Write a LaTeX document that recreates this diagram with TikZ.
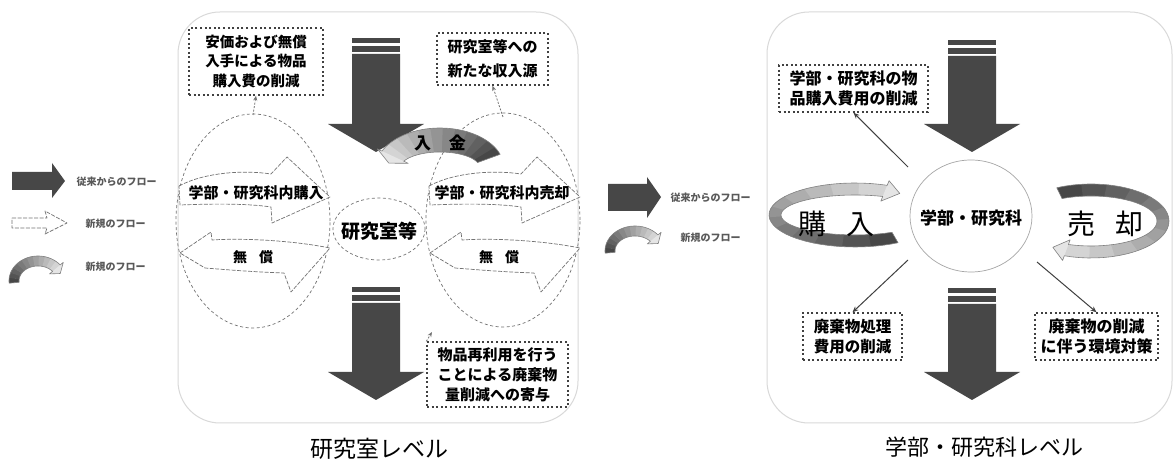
\documentclass[tikz,border=0pt]{standalone}
\usepackage{fontspec}
\setmainfont{Noto Sans CJK JP}
\usetikzlibrary{shapes.geometric,arrows.meta}
\newcommand{\fs}[2]{\fontsize{#1bp}{#2bp}\selectfont}
% curved band arrow: cx cy a b halfwidth t1 t2 headextra tipdelta
\newcommand{\bandarrow}[9]{%
  \foreach \i in {0,...,11}{%
    \pgfmathsetmacro\ta{#6+(#7-#6)*\i/12}%
    \pgfmathsetmacro\tb{#6+(#7-#6)*(\i+1.1)/12}%
    \pgfmathsetmacro\cc{72-55*\i/11}%
    \fill[black!\cc] plot[domain=\ta:\tb,samples=5] ({#1+(#3+#5)*cos(\x)},{#2+(#4+#5)*sin(\x)}) -- plot[domain=\tb:\ta,samples=5] ({#1+(#3-#5)*cos(\x)},{#2+(#4-#5)*sin(\x)}) -- cycle;
  }%
  \fill[black!10] ({#1+(#3+#5+#8)*cos(#7)},{#2+(#4+#5+#8)*sin(#7)}) -- ({#1+#3*cos(#7+#9)},{#2+#4*sin(#7+#9)}) -- ({#1+(#3-#5-#8)*cos(#7)},{#2+(#4-#5-#8)*sin(#7)}) -- cycle;
  \draw[black!50,line width=0.6bp,line join=round] plot[domain=#6:#7,samples=40] ({#1+(#3+#5)*cos(\x)},{#2+(#4+#5)*sin(\x)}) -- ({#1+(#3+#5+#8)*cos(#7)},{#2+(#4+#5+#8)*sin(#7)}) -- ({#1+#3*cos(#7+#9)},{#2+#4*sin(#7+#9)}) -- ({#1+(#3-#5-#8)*cos(#7)},{#2+(#4-#5-#8)*sin(#7)}) -- plot[domain=#7:#6,samples=40] ({#1+(#3-#5)*cos(\x)},{#2+(#4-#5)*sin(\x)}) -- cycle;
}
\newcommand{\exarrows}[1]{%
  \begin{scope}[shift={(#1,0)}]
    \draw[warrow] (179,186) .. controls (205,172) and (245,170) .. (271,174) -- (287,157) -- (330,197) -- (272,223) -- (271,207) .. controls (245,203) and (205,204) .. (180,205) -- cycle;
    \draw[warrow] (180,253) -- (211,232) -- (212,240) .. controls (240,238) and (290,240) .. (330,248) -- (291,292) -- (284,273) .. controls (255,272) and (230,270) .. (205,268) -- cycle;
  \end{scope}%
}
\newcommand{\darrow}[3]{% x-center, top y of stripes, tip y
  \fill[darkfill] ({#1-24},#2) rectangle ({#1+24},{#2+5});
  \fill[darkfill] ({#1-24},{#2+8}) rectangle ({#1+24},{#2+14});
  \fill[darkfill] ({#1-24},{#2+16}) -- ({#1+24},{#2+16}) -- ({#1+24},{#3-28}) -- ({#1+48},{#3-28}) -- (#1,#3) -- ({#1-48},{#3-28}) -- ({#1-24},{#3-28}) -- cycle;
}
\begin{document}
\begin{tikzpicture}[x=1bp,y=-1bp,
  panel/.style={draw=black!15,line width=1bp,rounded corners=42bp},
  dbox/.style={draw=black!75,line width=1.4bp,dash pattern=on 2bp off 2.6bp,align=center,inner sep=0pt,font=\bfseries},
  dell/.style={draw=black!55,line width=0.7bp,dash pattern=on 3bp off 2.5bp},
  warrow/.style={fill=white,draw=black!55,line width=0.7bp,dash pattern=on 4bp off 1.5bp,line join=round},
  darkfill/.style={fill=black!72},
  conn/.style={draw=black!75,line width=1bp,-{Stealth[length=6bp,width=5bp]}},
  lconn/.style={draw=black!55,line width=0.8bp,dash pattern=on 2bp off 1.5bp,-{Stealth[length=5bp,width=4bp]}},
  leg/.style={anchor=west,text=black!65,font=\bfseries\fs{10}{10}},
  lbl/.style={font=\bfseries,inner sep=0pt}]
\useasboundingbox (0,0) rectangle (1175,470);
\fill[white] (0,0) rectangle (1175,470);

% ---------- left legend ----------
\fill[darkfill] (12,172) -- (52,172) -- (52,163) -- (65,181) -- (52,198) -- (52,190) -- (12,190) -- cycle;
\node[leg] (lg1) at (73,182) {従来からのフロー};
\draw[warrow,fill=white] (12,218) -- (47,218) -- (45,211) -- (67,223) -- (45,234) -- (47,228) -- (12,228) -- cycle;
\node[leg] (lg2) at (82,224) {新規のフロー};
\bandarrow{38}{281}{24}{20}{5}{175}{320}{4}{18}
\node[leg] (lg3) at (82,267) {新規のフロー};

% ---------- right legend ----------
\fill[darkfill] (608,184) -- (647,184) -- (647,177) -- (661,197) -- (647,218) -- (647,211) -- (608,211) -- cycle;
\node[leg] (lg4) at (667,198) {従来からのフロー};
\bandarrow{635}{251}{25}{20}{5}{175}{320}{4}{18}
\node[leg] (lg5) at (677,238) {新規のフロー};

% ---------- left panel ----------
\draw[panel] (178,12) rectangle (578,423);
\node[ellipse,dell,minimum width=154bp,minimum height=214bp,inner sep=0pt] (ellL) at (253,221) {};
\node[ellipse,dell,minimum width=154bp,minimum height=214bp,inner sep=0pt] (ellR) at (503,220) {};
\exarrows{0}
\exarrows{250}
\draw[dell] (379,229) ellipse [x radius=46, y radius=31];
\node[lbl,font=\bfseries\fs{19}{19}] (lab) at (379,231) {研究室等};
\node[lbl,font=\bfseries\fs{15}{15}] (inbuy) at (256,193) {学部・研究科内購入};
\node[lbl,font=\bfseries\fs{14}{14}] (free1) at (253,257) {無\hspace{12bp}償};
\node[lbl,font=\bfseries\fs{15}{15}] (insell) at (502,193) {学部・研究科内売却};
\node[lbl,font=\bfseries\fs{14}{14}] (free2) at (499,257) {無\hspace{12bp}償};

\darrow{376}{38}{152}
\darrow{376}{287}{400}

\bandarrow{440}{168}{52}{28}{12}{340}{205}{5}{-15}
\node[lbl,font=\bfseries\fs{17}{17}] (nyukin) at (440,143) {入\hspace{18bp}金};

\node[dbox,minimum width=134bp,minimum height=67bp,font=\bfseries\fs{14.5}{19.5}] (boxA) at (256,61.5) {安価および無償\\入手による物品\\購入費の削減};
\node[dbox,minimum width=111bp,minimum height=52bp,font=\bfseries\fs{15}{24}] (boxB) at (492.5,59) {研究室等への\\新たな収入源};
\node[dbox,minimum width=141bp,minimum height=65bp,font=\bfseries\fs{15}{20}] (boxC) at (497.5,374.5) {物品再利用を行う\\ことによる廃棄物\\量削減への寄与};
\coordinate (a1) at (253,115);
\coordinate (a2) at (503,117);
\coordinate (a3) at (432,332);
\draw[lconn] (a1) -- (boxA.south);
\draw[lconn] (a2) -- (boxB.south);
\draw[lconn] (boxC.north west) -- (a3);
\node[font=\fs{23}{23},inner sep=0pt] (capL) at (379,449) {研究室レベル};

% ---------- right panel ----------
\draw[panel] (767,12) rectangle (1172,423);
\draw[black!35,line width=0.7bp] (971,216) ellipse [x radius=61, y radius=56];
\node[lbl,font=\bfseries\fs{17}{17}] (dept) at (971,218) {学部・研究科};
\darrow{972}{40}{152}
\darrow{972}{288}{400}
\bandarrow{855}{215}{80}{26}{6}{60}{292}{5}{12}
\node[inner sep=0pt,font=\fs{28}{28}] (buy) at (836,224) {購\hspace{20bp}入};
\bandarrow{1091}{221}{72}{31}{6}{244}{470}{5}{12}
\node[inner sep=0pt,font=\fs{28}{28}] (sell) at (1105,224) {売\hspace{20bp}却};
\node[dbox,minimum width=149bp,minimum height=47bp,font=\bfseries\fs{16}{20}] (boxD) at (853.5,88.5) {学部・研究科の物\\品購入費用の削減};
\node[dbox,minimum width=99bp,minimum height=47bp,font=\bfseries\fs{15.5}{20}] (boxE) at (852.5,336.5) {廃棄物処理\\費用の削減};
\node[dbox,minimum width=123bp,minimum height=47bp,font=\bfseries\fs{16}{20}] (boxF) at (1096.5,336.5) {廃棄物の削減\\に伴う環境対策};
\coordinate (s1) at (908,167);
\coordinate (s2) at (908,260);
\coordinate (s3) at (1037,262);
\draw[conn] (s1) -- (boxD.south);
\draw[conn] (s2) -- (boxE.north);
\draw[conn] (s3) -- (boxF.north);
\node[font=\fs{22}{22},inner sep=0pt] (capR) at (984,447) {学部・研究科レベル};
\end{tikzpicture}
\end{document}
